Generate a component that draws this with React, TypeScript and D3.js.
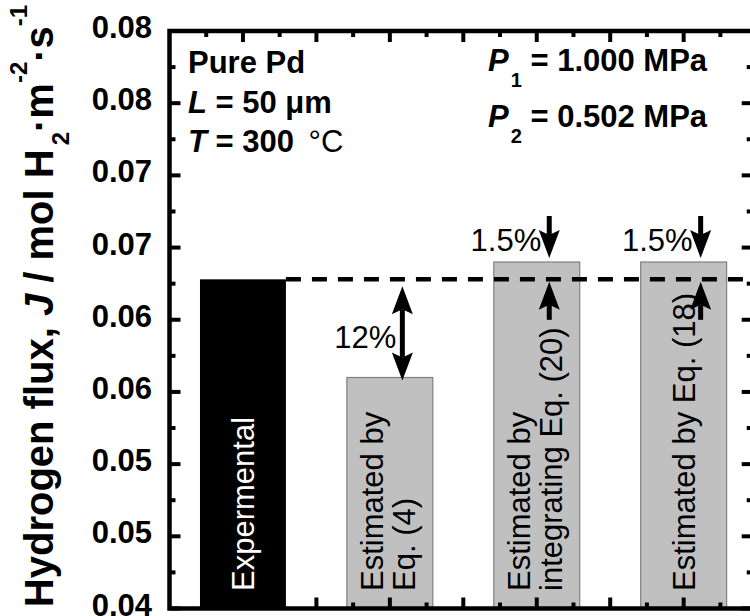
import * as d3 from 'd3';
import React, { useEffect, useRef } from 'react';

// bar data
const categories = ['Expermental', 'Estimated by Eq. (4)', 'Estimated by integrating Eq. (20)', 'Estimated by Eq. (18)'];
const barLabelLines = [['Expermental'], ['Estimated by', 'Eq. (4)'], ['Estimated by', 'integrating Eq. (20)'], ['Estimated by Eq. (18)']];
const barSlots = [1, 3, 5, 7];
const fluxValues = [0.0628, 0.056, 0.064, 0.064];
const deviationLabels = ['', '12%', '1.5%', '1.5%'];

// axis ticks
const yTickValues = [0.04, 0.045, 0.05, 0.055, 0.06, 0.065, 0.07, 0.075, 0.08];
const yTickLabels = ['0.04', '0.05', '0.05', '0.06', '0.06', '0.07', '0.07', '0.08', '0.08'];
const xMajorTicks = [1, 2, 3, 4, 5, 6, 7];

const W = 750;
const H = 616;
const FONT = "'Liberation Sans', Arial, Helvetica, sans-serif";

export default function App() {
  const ref = useRef<SVGSVGElement | null>(null);

  useEffect(() => {
    const svg = d3.select(ref.current);
    svg.selectAll('*').remove();

    const left = 169.5;
    const right = 752.7;
    const top = 31;
    const bottom = 608.5;

    const x = d3.scaleLinear().domain([0, 7.94]).range([left, right]);
    const y = d3.scaleLinear().domain([0.04, 0.08]).range([bottom, top]);
    const barW = x(1.17) - x(0);
    const refFlux = fluxValues[0];

    svg.append('rect').attr('width', W).attr('height', H).attr('fill', '#fff');

    // bars
    fluxValues.forEach((v, i) => {
      const cx = x(barSlots[i]);
      svg
        .append('rect')
        .attr('x', cx - barW / 2)
        .attr('y', y(v))
        .attr('width', barW)
        .attr('height', bottom - y(v))
        .attr('fill', i === 0 ? '#000' : '#c0c0c0')
        .attr('stroke', i === 0 ? 'none' : '#808080')
        .attr('stroke-width', 1.2);

      // rotated label inside the bar
      const lines = barLabelLines[i];
      const offsets = lines.length === 1 ? [11] : [-7, 25];
      const g = svg.append('g').attr('transform', `translate(${cx},591) rotate(-90)`);
      lines.forEach((line, k) => {
        g.append('text')
          .attr('x', 0)
          .attr('y', offsets[k])
          .attr('font-family', FONT)
          .attr('font-size', 31)
          .attr('fill', i === 0 ? '#fff' : '#000')
          .text(line);
      });
      g.append('title').text(categories[i]);
    });

    // reference dashed line
    svg
      .append('line')
      .attr('x1', x(barSlots[0]) + barW / 2)
      .attr('x2', right)
      .attr('y1', y(refFlux))
      .attr('y2', y(refFlux))
      .attr('stroke', '#000')
      .attr('stroke-width', 4.5)
      .attr('stroke-dasharray', '15,11');

    // arrows
    const headL = 28;
    const headW = 21;
    const notch = 5;
    const head = (ax: number, tipY: number, dir: number) => {
      // dir = 1 -> pointing down, -1 -> pointing up
      const p = d3.path();
      p.moveTo(ax, tipY);
      p.lineTo(ax - headW / 2, tipY - dir * headL);
      p.lineTo(ax, tipY - dir * (headL - notch));
      p.lineTo(ax + headW / 2, tipY - dir * headL);
      p.closePath();
      svg.append('path').attr('d', p.toString()).attr('fill', '#000');
    };
    const shaft = (ax: number, y1: number, y2: number) => {
      svg
        .append('line')
        .attr('x1', ax)
        .attr('x2', ax)
        .attr('y1', y1)
        .attr('y2', y2)
        .attr('stroke', '#000')
        .attr('stroke-width', 5);
    };
    const arrowDx = [0, 12.5, 12.5, 17];

    fluxValues.forEach((v, i) => {
      if (!deviationLabels[i]) return;
      const ax = x(barSlots[i]) + arrowDx[i];
      const yRef = y(refFlux);
      const yBar = y(v);
      if (v < refFlux) {
        const t1 = yRef + 7;
        const t2 = yBar + 3;
        shaft(ax, t1 + headL - notch, t2 - headL + notch);
        head(ax, t1, -1);
        head(ax, t2, 1);
        svg
          .append('text')
          .attr('x', ax - 6)
          .attr('y', (yRef + yBar) / 2 + 20)
          .attr('text-anchor', 'end')
          .attr('font-family', FONT)
          .attr('font-size', 31)
          .text(deviationLabels[i]);
      } else {
        const tipDown = yBar - 4;
        shaft(ax, tipDown - 42, tipDown - headL + notch);
        head(ax, tipDown, 1);
        const tipUp = yRef + 2.5;
        shaft(ax, tipUp + 38, tipUp + headL - notch);
        head(ax, tipUp, -1);
        svg
          .append('text')
          .attr('x', ax - 8)
          .attr('y', yBar - 11)
          .attr('text-anchor', 'end')
          .attr('font-family', FONT)
          .attr('font-size', 31)
          .text(deviationLabels[i]);
      }
    });

    // frame and ticks
    const tickW = 4;
    const axisG = svg.append('g').attr('stroke', '#000').attr('stroke-width', tickW);
    const yMinor = d3.range(0.0425, 0.08, 0.005);
    const xMinor = d3.range(0.5, 7.9, 1);

    yTickValues.forEach(t => {
      axisG.append('line').attr('x1', left).attr('x2', left + 11).attr('y1', y(t)).attr('y2', y(t));
      axisG.append('line').attr('x1', right).attr('x2', right - 11).attr('y1', y(t)).attr('y2', y(t));
    });
    yMinor.forEach(t => {
      axisG.append('line').attr('x1', left).attr('x2', left + 6).attr('y1', y(t)).attr('y2', y(t));
      axisG.append('line').attr('x1', right).attr('x2', right - 6).attr('y1', y(t)).attr('y2', y(t));
    });
    xMajorTicks.forEach(t => {
      axisG.append('line').attr('x1', x(t)).attr('x2', x(t)).attr('y1', bottom).attr('y2', bottom - 11);
      axisG.append('line').attr('x1', x(t)).attr('x2', x(t)).attr('y1', top).attr('y2', top + 11);
    });
    xMinor.forEach(t => {
      axisG.append('line').attr('x1', x(t)).attr('x2', x(t)).attr('y1', bottom).attr('y2', bottom - 6);
      axisG.append('line').attr('x1', x(t)).attr('x2', x(t)).attr('y1', top).attr('y2', top + 6);
    });
    svg
      .append('rect')
      .attr('x', left)
      .attr('y', top)
      .attr('width', right - left)
      .attr('height', bottom - top)
      .attr('fill', 'none')
      .attr('stroke', '#000')
      .attr('stroke-width', 4.5);

    // y tick labels
    yTickValues.forEach((t, i) => {
      svg
        .append('text')
        .attr('x', 152)
        .attr('y', y(t) + 7)
        .attr('text-anchor', 'end')
        .attr('font-family', FONT)
        .attr('font-weight', 'bold')
        .attr('font-size', 31)
        .text(yTickLabels[i]);
    });

    // y axis title
    const yt = svg
      .append('text')
      .attr('transform', 'translate(53,306) rotate(-90)')
      .attr('text-anchor', 'middle')
      .attr('font-family', FONT)
      .attr('font-weight', 'bold')
      .attr('font-size', 40);
    yt.append('tspan').text('Hydrogen flux, ');
    yt.append('tspan').attr('font-style', 'italic').text('J');
    yt.append('tspan').text(' / mol H');
    yt.append('tspan').attr('font-size', 24).attr('dx', 4).attr('dy', 16).text('2');
    yt.append('tspan').attr('dy', -16).text('·m');
    yt.append('tspan').attr('font-size', 24).attr('dy', -26).text('-2');
    yt.append('tspan').attr('dy', 26).text('·s');
    yt.append('tspan').attr('font-size', 24).attr('dy', -26).text('-1');

    // condition notes
    const note = (tx: number, ty: number) =>
      svg
        .append('text')
        .attr('x', tx)
        .attr('y', ty)
        .attr('font-family', FONT)
        .attr('font-weight', 'bold')
        .attr('font-size', 31);

    note(188, 73).text('Pure Pd');
    const l2 = note(188, 113);
    l2.append('tspan').attr('font-style', 'italic').text('L');
    l2.append('tspan').text(' = 50 μm');
    const l3 = note(188, 152);
    l3.append('tspan').attr('font-style', 'italic').text('T');
    l3.append('tspan').text(' = 300 ');
    l3.append('tspan').attr('font-weight', 'normal').attr('dx', 6).text('°C');

    const p1 = note(488, 71);
    p1.append('tspan').attr('font-style', 'italic').text('P');
    p1.append('tspan').attr('font-size', 20).attr('dx', 2).attr('dy', 16).text('1');
    p1.append('tspan').attr('dy', -16).text(' = 1.000 MPa');
    const p2 = note(488, 127);
    p2.append('tspan').attr('font-style', 'italic').text('P');
    p2.append('tspan').attr('font-size', 20).attr('dx', 2).attr('dy', 16).text('2');
    p2.append('tspan').attr('dy', -16).text(' = 0.502 MPa');
  }, []);

  return (
    <svg
      ref={ref}
      width={W}
      height={H}
      style={{ position: 'absolute', left: 0, top: 0, display: 'block' }}
    />
  );
}
